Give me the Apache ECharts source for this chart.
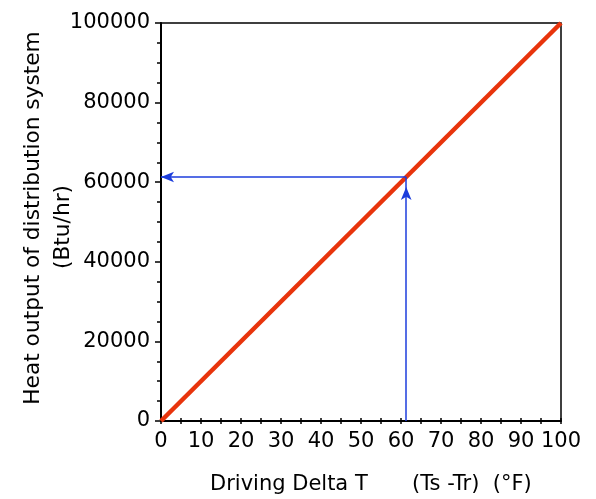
<!DOCTYPE html>
<html>
<head>
<meta charset="utf-8">
<script src="https://cdn.jsdelivr.net/npm/echarts@6/dist/echarts.min.js"></script>
<style>
html,body{margin:0;padding:0;background:#fff;}
#c{width:596px;height:499px;}
</style>
</head>
<body>
<div id="c"></div>
<script>
// Data
const lineX = [0, 100];
const lineY = [0, 100000];
const readDeltaT = 61.3;
const readOutput = 61300;
const arrowTipOutput = 58800;
const xTitle1 = 'Driving Delta T';
const xTitle2 = '(Ts -Tr)  (\u00B0F)';
const yTitle1 = 'Heat output of distribution system';
const yTitle2 = '(Btu/hr)';

const FONT = 'DejaVu Sans';
const FS = 21;
const chart = echarts.init(document.getElementById('c'), null, {renderer: 'canvas'});

const txt = (t, fs) => ({text: t, fill: '#000', fontSize: fs || FS, fontFamily: FONT, align: 'center', verticalAlign: 'middle'});

const option = {
  animation: false,
  backgroundColor: '#fff',
  grid: {left: 161, top: 23, right: 35, bottom: 78, show: true, borderColor: '#000', borderWidth: 1.5, backgroundColor: 'transparent'},
  xAxis: [{
    type: 'value', min: 0, max: 100, interval: 10,
    axisLine: {show: true, onZero: false, lineStyle: {color: '#000', width: 2}},
    axisTick: {show: true, inside: true, length: 3, lineStyle: {color: '#000', width: 1.5}},
    minorTick: {show: true, splitNumber: 2, length: 3, lineStyle: {color: '#000', width: 1.5}},
    splitLine: {show: false},
    axisLabel: {color: '#000', fontSize: FS, fontFamily: FONT, margin: 10, formatter: v => String(v)}
  }, {
    type: 'value', min: 0, max: 100, interval: 10, position: 'bottom', gridIndex: 0,
    axisLine: {show: false},
    axisTick: {show: true, inside: false, length: 3, lineStyle: {color: '#000', width: 1.5}},
    minorTick: {show: true, splitNumber: 2, length: 3, lineStyle: {color: '#000', width: 1.5}},
    splitLine: {show: false},
    axisLabel: {show: false}
  }],
  yAxis: {
    type: 'value', min: 0, max: 100000, interval: 20000,
    axisLine: {show: true, onZero: false, lineStyle: {color: '#000', width: 2}},
    axisTick: {show: true, inside: false, length: 6, lineStyle: {color: '#000', width: 1.5}},
    minorTick: {show: true, splitNumber: 4, length: 4, lineStyle: {color: '#000', width: 1.5}},
    splitLine: {show: false},
    axisLabel: {color: '#000', fontSize: FS, fontFamily: FONT, margin: 11, formatter: v => String(v)}
  },
  graphic: [
    {type: 'text', x: 210, y: 485, style: Object.assign(txt(xTitle1), {align: 'left'})},
    {type: 'text', x: 412, y: 485, style: Object.assign(txt(xTitle2), {align: 'left'})},
    {type: 'text', x: 33, y: 218, rotation: Math.PI / 2, style: txt(yTitle1, 21.7)},
    {type: 'text', x: 63, y: 227, rotation: Math.PI / 2, style: txt(yTitle2, 21.7)}
  ],
  series: [{
    type: 'line',
    data: lineX.map((x, i) => [x, lineY[i]]),
    symbol: 'none',
    lineStyle: {color: '#e8340c', width: 4.5},
    z: 3
  }, {
    type: 'line',
    data: [],
    symbol: 'none',
    z: 4,
    markLine: {
      silent: true,
      animation: false,
      symbolSize: [8, 13],
      label: {show: false},
      lineStyle: {color: '#1c3ddc', width: 1.5, type: 'solid'},
      data: [
        [{coord: [readDeltaT, 0], symbol: 'none'}, {coord: [readDeltaT, arrowTipOutput], symbol: 'arrow'}],
        [{coord: [readDeltaT, arrowTipOutput], symbol: 'none'}, {coord: [readDeltaT, readOutput], symbol: 'none'}],
        [{coord: [readDeltaT, readOutput], symbol: 'none'}, {coord: [0, readOutput], symbol: 'arrow'}]
      ]
    }
  }]
};
chart.setOption(option);
</script>
</body>
</html>
